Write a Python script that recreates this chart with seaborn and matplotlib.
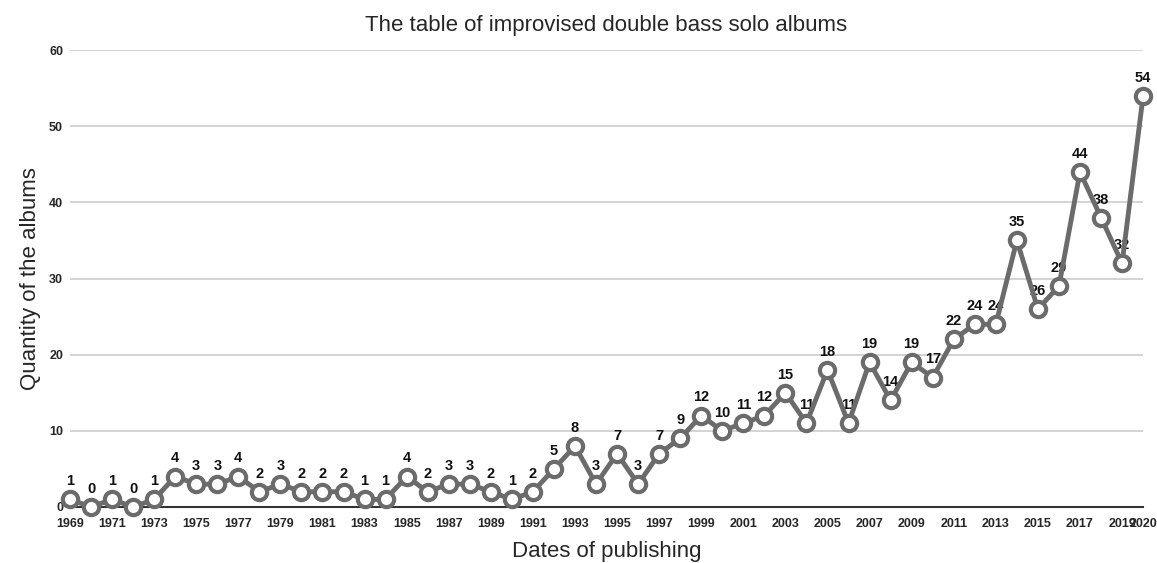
import matplotlib
matplotlib.use("Agg")
import matplotlib.pyplot as plt
import seaborn as sns
import pandas as pd

years = list(range(1969, 2021))
albums = [1, 0, 1, 0, 1, 4, 3, 3, 4, 2, 3, 2, 2, 2, 1, 1, 4, 2, 3, 3, 2, 1, 2, 5, 8,
          3, 7, 3, 7, 9, 12, 10, 11, 12, 15, 11, 18, 11, 19, 14, 19, 17, 22, 24, 24,
          35, 26, 29, 44, 38, 32, 54]
tick_years = list(range(1969, 2020, 2)) + [2020]

df = pd.DataFrame({"year": years, "albums": albums})

sns.set_style("white")
plt.rcParams['font.family'] = ['Liberation Sans', 'DejaVu Sans']

fig = plt.figure(figsize=(11.57, 5.63), dpi=100)
ax = fig.add_axes([0.0605, 0.0995, 0.9275, 0.8115])

line_color = "#6b6b6b"
sns.lineplot(data=df, x="year", y="albums", ax=ax, color=line_color, linewidth=3.5,
             marker="o", markersize=11, markerfacecolor="white",
             markeredgecolor=line_color, markeredgewidth=3, clip_on=False, zorder=5)

for x, y in zip(years, albums):
    ax.annotate(str(y), (x, y), xytext=(0, 8), textcoords="offset points",
                ha="center", va="bottom", fontsize=10.5, fontweight="bold",
                color="#111111", zorder=4)

ax.set_xlim(1969, 2020)
ax.set_ylim(0, 60)
ax.set_yticks([0, 10, 20, 30, 40, 50, 60])
ax.set_xticks(tick_years)
ax.set_xticklabels([str(t) for t in tick_years], fontsize=9, fontweight="bold")
ax.set_yticklabels(["0", "10", "20", "30", "40", "50", "60"], fontsize=9, fontweight="bold")
ax.tick_params(axis="x", length=0, pad=8)
ax.tick_params(axis="y", length=0, pad=5)
ax.grid(axis="y", color="#c8c8c8", linewidth=1.1)
ax.grid(axis="x", visible=False)
for s in ["top", "right", "left"]:
    ax.spines[s].set_visible(False)
ax.spines["bottom"].set_color("#333333")
ax.spines["bottom"].set_linewidth(1.5)

ax.set_title("The table of improvised double bass solo albums", fontsize=16, pad=14)
ax.set_xlabel("Dates of publishing", fontsize=16, labelpad=8)
ax.set_ylabel("Quantity of the albums", fontsize=16, labelpad=6)

fig.savefig("out.png", dpi=100)
